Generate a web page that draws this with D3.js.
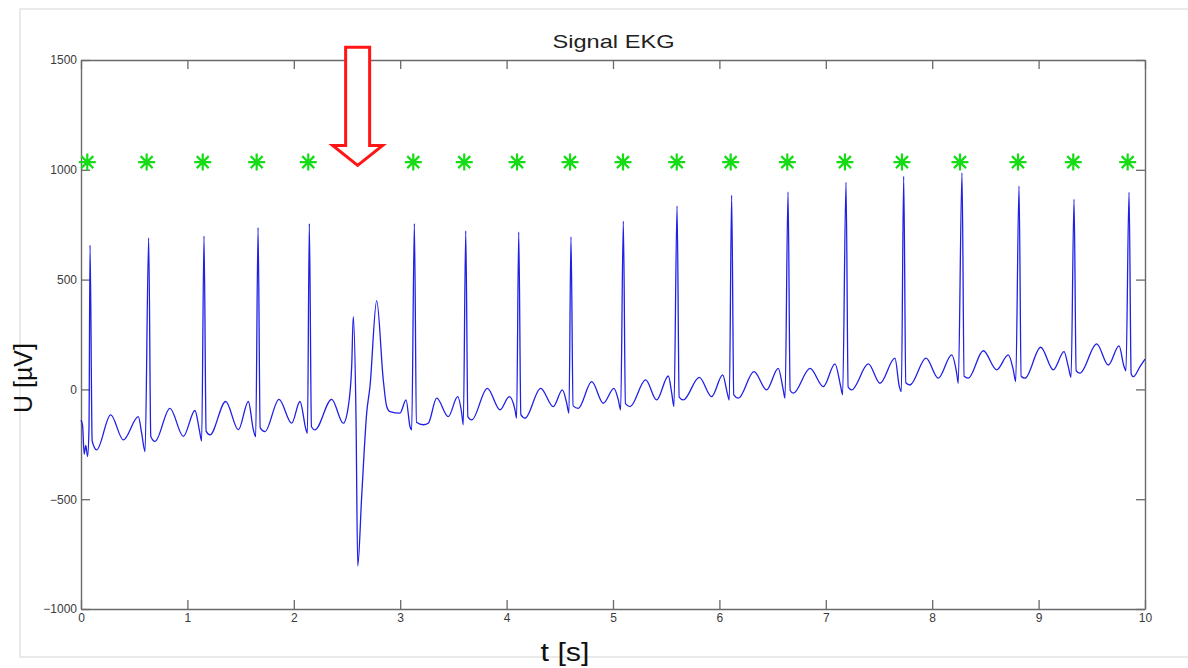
<!DOCTYPE html>
<html>
<head>
<meta charset="utf-8">
<title>Signal EKG</title>
<script src="https://cdn.jsdelivr.net/npm/d3@7"></script>
<style>
  html, body { margin: 0; padding: 0; background: #fff; }
  svg { display: block; }
  text { font-family: "Liberation Sans", Arial, Helvetica, sans-serif; }
</style>
</head>
<body>
<svg id="chart" width="1188" height="668"></svg>
<script>
// Recorded EKG trace: time in seconds, voltage in microvolts
const timeSec = [
  0.000, 0.015, 0.030, 0.045, 0.062, 0.075, 0.085,
  0.105, 0.147, 0.279, 0.398, 0.539, 0.570, 0.602, 0.636,
  0.656, 0.695, 0.836, 0.962, 1.071, 1.112, 1.134, 1.156,
  1.176, 1.212, 1.360, 1.479, 1.573, 1.620, 1.642, 1.664,
  1.684, 1.729, 1.861, 1.980, 2.058, 2.115, 2.128, 2.146,
  2.166, 2.199, 2.356, 2.465, 2.512, 2.544, 2.559,
  2.585, 2.601, 2.638, 2.685, 2.716, 2.779, 2.841, 2.873, 2.904, 2.998, 3.055, 3.092, 3.108, 3.133,
  3.153, 3.217, 3.264, 3.343, 3.452, 3.540, 3.578, 3.593, 3.616,
  3.636, 3.672, 3.819, 3.938, 4.025, 4.079, 4.094, 4.114,
  4.134, 4.173, 4.320, 4.439, 4.524, 4.565, 4.586, 4.605,
  4.625, 4.674, 4.800, 4.909, 5.009, 5.050, 5.072, 5.097,
  5.117, 5.160, 5.307, 5.410, 5.520, 5.552, 5.573, 5.602,
  5.622, 5.661, 5.811, 5.927, 6.031, 6.074, 6.093, 6.115,
  6.135, 6.178, 6.325, 6.444, 6.553, 6.600, 6.617, 6.645,
  6.665, 6.695, 6.852, 6.977, 7.086, 7.140, 7.158, 7.190,
  7.210, 7.243, 7.400, 7.509, 7.650, 7.691, 7.710, 7.732,
  7.752, 7.791, 7.942, 8.057, 8.183, 8.230, 8.245, 8.280,
  8.300, 8.339, 8.480, 8.606, 8.715, 8.762, 8.785, 8.816,
  8.836, 8.872, 9.020, 9.138, 9.239, 9.279, 9.305, 9.333,
  9.353, 9.389, 9.546, 9.655, 9.756, 9.803, 9.821, 9.850,
  9.870, 9.890, 9.953, 10.000
];
const voltageUV = [
  -140, -165, -295, -255, -305, -180, 657,
  -235, -275, -116, -230, -124, -199, -283, 690,
  -215, -237, -86, -214, -96, -184, -235, 698,
  -190, -207, -55, -184, -55, -184, -215, 737,
  -175, -192, -45, -154, -55, -184, -200, 755,
  -170, -184, -45, -154, -78, 104, 331,
  -139, -805, -487, -108, 13, 404, 43, -78, -101, -108, -48, -169, -184, 755,
  -150, -161, -154, -40, -124, -33, -108, -161, 722,
  -125, -139, 5, -93, -33, -93, -131, 717,
  -115, -131, 5, -78, -2, -63, -108, 695,
  -75, -86, 35, -63, 5, -48, -93, 766,
  -65, -78, 43, -48, 61, -17, -78, 835,
  -35, -48, 55, -33, 66, -17, -48, 884,
  -25, -40, 81, -2, 96, -2, -40, 899,
  -5, -17, 96, 13, 116, 13, -25, 943,
  10, -2, 116, 28, 142, 13, -10, 970,
  30, 20, 142, 51, 157, 74, 28, 986,
  60, 51, 176, 89, 157, 89, 36, 925,
  60, 51, 192, 89, 172, 104, 55, 866,
  85, 74, 207, 111, 198, 104, 85, 898,
  70, 58, 104, 138
];

// Detected R-peak markers
const peakTimes = [
  0.059, 0.617, 1.144, 1.651, 2.136, 3.123, 3.602, 4.098, 4.596, 5.094,
  5.599, 6.106, 6.638, 7.180, 7.716, 8.261, 8.806, 9.326, 9.837
];
const peakMarkerUV = [
  1035, 1035, 1035, 1035, 1035, 1035, 1035, 1035, 1035, 1035,
  1035, 1035, 1035, 1035, 1035, 1035, 1035, 1035, 1035
];

// Missed beat pointed out by the arrow (time in s, tip and tail in µV)
const arrowTime = [2.60];
const arrowTipUV = [1020];
const arrowTailUV = [1558];

// Axis ticks
const xTicks = [0, 1, 2, 3, 4, 5, 6, 7, 8, 9, 10];
const yTicks = [-1000, -500, 0, 500, 1000, 1500];

const svg = d3.select("#chart");
const plot = { left: 81, right: 1145, top: 60, bottom: 609 };

const x = d3.scaleLinear().domain([0, 10]).range([plot.left, plot.right]);
const y = d3.scaleLinear().domain([-1000, 1500]).range([plot.bottom, plot.top]);

// Outer figure frame
svg.append("rect")
  .attr("x", 20).attr("y", 9)
  .attr("width", 1200).attr("height", 648)
  .attr("fill", "none")
  .attr("stroke", "#e3e3e3")
  .attr("stroke-width", 1.5);

// Axes with inward ticks on all four sides (boxed)
function styleAxis(g) {
  g.selectAll(".domain").attr("stroke", "#6a6a6a").attr("stroke-width", 1.4);
  g.selectAll(".tick line").attr("stroke", "#6a6a6a").attr("stroke-width", 1.3);
  g.selectAll(".tick text")
    .attr("fill", "#3a3a3a")
    .style("font-size", "12px")
    .style("font-family", "'Liberation Sans', Arial, sans-serif");
}

svg.append("g")
  .attr("transform", `translate(0,${plot.bottom})`)
  .call(d3.axisBottom(x).tickValues(xTicks).tickSizeInner(-9).tickSizeOuter(0).tickPadding(4).tickFormat(d3.format("d")))
  .call(styleAxis);

svg.append("g")
  .attr("transform", `translate(0,${plot.top})`)
  .call(d3.axisTop(x).tickValues(xTicks).tickSizeInner(-9).tickSizeOuter(0).tickFormat(""))
  .call(styleAxis);

svg.append("g")
  .attr("transform", `translate(${plot.left},0)`)
  .call(d3.axisLeft(y).tickValues(yTicks).tickSizeInner(-9).tickSizeOuter(0).tickPadding(4).tickFormat(d3.format("d")))
  .call(styleAxis);

svg.append("g")
  .attr("transform", `translate(${plot.right},0)`)
  .call(d3.axisRight(y).tickValues(yTicks).tickSizeInner(-9).tickSizeOuter(0).tickFormat(""))
  .call(styleAxis);

// EKG trace
const trace = timeSec.map((t, i) => ({ t, v: voltageUV[i] }));
const line = d3.line()
  .x(d => x(d.t))
  .y(d => y(d.v))
  .curve(d3.curveMonotoneX);

svg.append("path")
  .datum(trace)
  .attr("d", line)
  .attr("fill", "none")
  .attr("stroke", "#1f1fe6")
  .attr("stroke-width", 1.3)
  .attr("stroke-linejoin", "round");

// Eight-armed asterisk marker
function asteriskPath(r) {
  const p = d3.path();
  const d = r * Math.SQRT1_2;
  p.moveTo(-r, 0); p.lineTo(r, 0);
  p.moveTo(0, -r); p.lineTo(0, r);
  p.moveTo(-d, -d); p.lineTo(d, d);
  p.moveTo(-d, d); p.lineTo(d, -d);
  return p.toString();
}

svg.append("g")
  .selectAll("path")
  .data(peakTimes.map((t, i) => ({ t, v: peakMarkerUV[i] })))
  .join("path")
  .attr("transform", d => `translate(${x(d.t)},${y(d.v)})`)
  .attr("d", asteriskPath(8.5))
  .attr("fill", "none")
  .attr("stroke", "#16dc16")
  .attr("stroke-width", 2.2)
  .attr("stroke-linecap", "butt");

// Hollow red arrow
arrowTime.forEach((t, i) => {
  const cx = x(t);
  const tipY = y(arrowTipUV[i]);
  const tailY = y(arrowTailUV[i]);
  const shaftHalf = 12, headHalf = 25, headLen = 20;
  const pts = [
    [cx - shaftHalf, tailY],
    [cx + shaftHalf, tailY],
    [cx + shaftHalf, tipY - headLen],
    [cx + headHalf, tipY - headLen],
    [cx, tipY],
    [cx - headHalf, tipY - headLen],
    [cx - shaftHalf, tipY - headLen]
  ];
  svg.append("polygon")
    .attr("points", pts.map(p => p.join(",")).join(" "))
    .attr("fill", "#fff")
    .attr("stroke", "#ff1515")
    .attr("stroke-width", 3)
    .attr("stroke-linejoin", "miter");
});

// Title and axis labels
svg.append("text")
  .attr("x", (plot.left + plot.right) / 2 + 0.5)
  .attr("y", 48)
  .attr("text-anchor", "middle")
  .attr("fill", "#222")
  .style("font-size", "19px")
  .attr("textLength", 122)
  .attr("lengthAdjust", "spacingAndGlyphs")
  .text("Signal EKG");

svg.append("text")
  .attr("x", 565)
  .attr("y", 661)
  .attr("text-anchor", "middle")
  .attr("fill", "#111")
  .style("font-size", "25px")
  .attr("textLength", 49)
  .attr("lengthAdjust", "spacingAndGlyphs")
  .text("t [s]");

svg.append("text")
  .attr("transform", "translate(32,378) rotate(-90)")
  .attr("text-anchor", "middle")
  .attr("fill", "#111")
  .style("font-size", "25px")
  .text("U [µV]");
</script>
</body>
</html>
